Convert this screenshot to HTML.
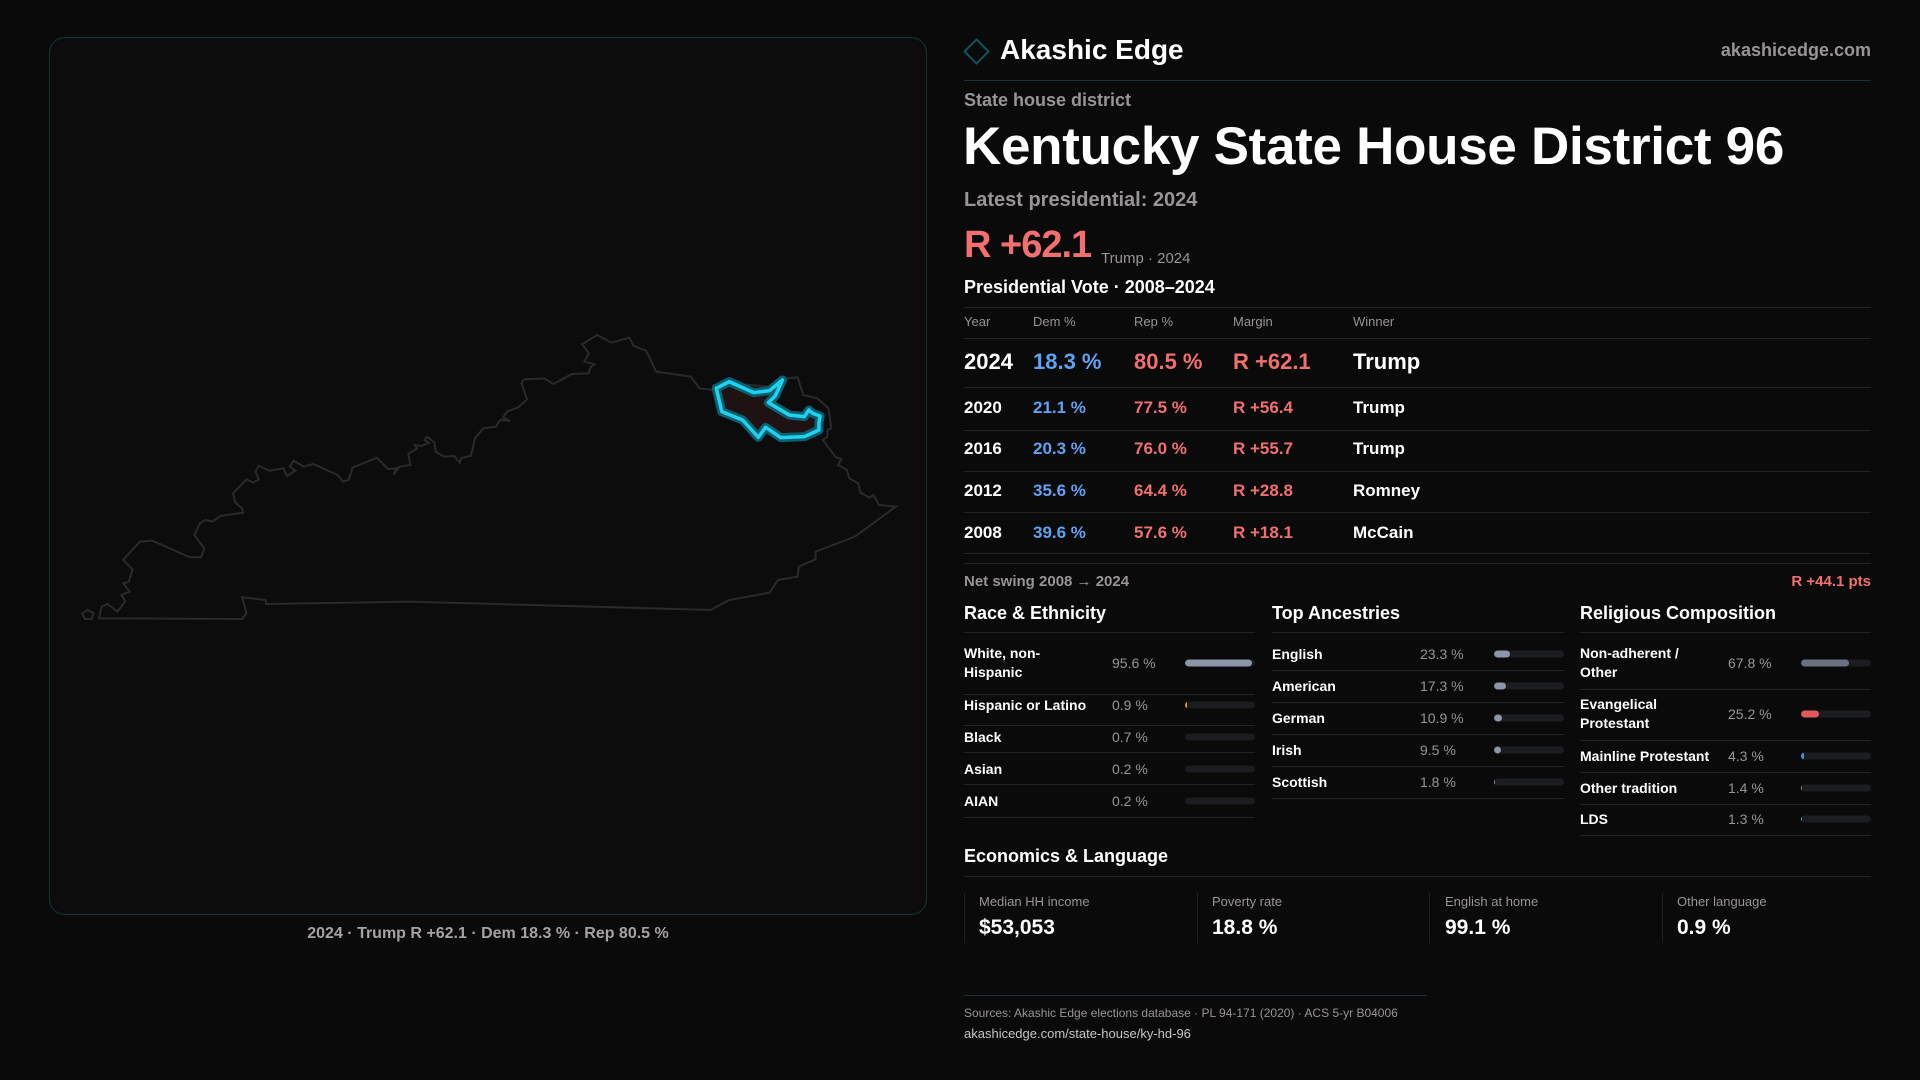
<!DOCTYPE html>
<html><head><meta charset="utf-8"><style>
*{margin:0;padding:0;box-sizing:border-box}
body{width:1920px;height:1080px;background:#0a0a0b;font-family:"Liberation Sans",sans-serif;color:#fff;position:relative;overflow:hidden}
.a{position:absolute;white-space:nowrap}
.g{color:#9a9494}
.b{color:#5ea2f2}.r{color:#f26f6f}
.hl{position:absolute;height:1px;background:#222326}
.row{font-size:15px;font-weight:bold;transform:translateY(-50%)}
.v{font-size:14px;color:#9a9494;transform:translateY(-50%)}
.tr{position:absolute;height:7px;border-radius:4px;background:#1c1d21;transform:translateY(-50%);overflow:hidden}
.tr i{display:block;height:100%;border-radius:4px}
</style></head><body>
<div style="position:absolute;left:49px;top:37px;width:878px;height:878px;border:1px solid #143338;border-radius:16px;background:#0c0c0d"></div>
<svg width="1920" height="1080" style="position:absolute;left:0;top:0">
<g transform="translate(40,320) scale(0.5612,0.3333)">
<path vector-effect="non-scaling-stroke" fill="none" stroke="#2a2a2c" stroke-width="2" d="M105,895 L360,897 368,880 360,832 402,840 403,852 660,845 1195,870 1228,840 1300,818 1315,780 1350,770 1352,740 1382,718 1382,695 1452,650 1525,560 1495,555 1485,525 1478,533 1462,518 1458,490 1442,475 1438,450 1422,435 1428,417 1418,412 1395,360 1403,350 1403,330 1410,325 1405,265 1385,235 1360,225 1350,172 1330,175 1300,200 1230,190 1200,210 1175,205 1160,170 1098,155 1080,92 1058,78 1050,53 1018,68 993,45 966,73 978,100 970,125 988,133 980,143 978,160 948,162 915,192 898,175 862,178 858,190 868,238 852,262 832,275 825,293 838,303 820,300 812,320 790,325 775,355 768,407 750,415 748,428 738,408 720,410 705,395 703,368 690,350 685,360 693,368 680,378 668,375 672,385 656,402 660,435 640,440 630,465 635,445 620,447 600,413 557,443 550,480 540,485 530,465 487,432 470,440 452,422 445,440 455,452 440,468 434,445 408,452 390,437 384,455 390,478 380,488 368,478 344,520 348,548 360,565 362,578 322,588 307,605 295,600 285,610 275,645 293,686 287,712 267,712 200,662 178,665 148,720 165,748 158,786 148,790 160,815 145,825 152,843 138,875 120,852 110,860 Z M75,880 L85,870 95,880 92,897 80,897 Z"/>
<path vector-effect="non-scaling-stroke" fill="#1e1212" stroke="#0d5f70" stroke-width="9" stroke-linejoin="round" d="M1205,205 L1228,185 1272,218 1300,212 1323,180 1310,228 1298,248 1335,285 1362,290 1370,270 1377,280 1390,288 1388,308 1388,330 1362,350 1320,353 1293,322 1280,352 1252,300 1215,275 Z"/>
<path vector-effect="non-scaling-stroke" fill="none" stroke="#1fd3f0" stroke-width="3.5" stroke-linejoin="round" d="M1205,205 L1228,185 1272,218 1300,212 1323,180 1310,228 1298,248 1335,285 1362,290 1370,270 1377,280 1390,288 1388,308 1388,330 1362,350 1320,353 1293,322 1280,352 1252,300 1215,275 Z"/>
</g>
<rect x="968" y="43" width="17" height="17" transform="rotate(45 976.5 51.5)" fill="none" stroke="#0f5561" stroke-width="2"/>
</svg>
<div class="a g" style="left:0;width:976px;text-align:center;top:925px;font-size:16px;font-weight:bold;color:#a8a2a2">2024 · Trump R +62.1 · Dem 18.3 % · Rep 80.5 %</div>

<div class="a" style="left:1000px;top:34px;font-size:28px;font-weight:bold">Akashic Edge</div>
<div class="a g" style="right:49px;top:40px;font-size:18px;font-weight:bold">akashicedge.com</div>
<div class="hl" style="left:964px;width:907px;top:80px;background:#153539"></div>
<div class="a g" style="left:964px;top:90px;font-size:18px;font-weight:bold">State house district</div>
<div class="a" style="left:963px;top:116px;font-size:53px;font-weight:bold;letter-spacing:-0.3px">Kentucky State House District 96</div>
<div class="a g" style="left:964px;top:189px;font-size:20px;font-weight:bold">Latest presidential: 2024</div>
<div class="a r" style="left:964px;top:224px;font-size:38px;letter-spacing:-1px;font-weight:bold">R +62.1</div>
<div class="a g" style="left:1101px;top:250px;font-size:15px">Trump · 2024</div>
<div class="a" style="left:964px;top:277px;font-size:18px;font-weight:bold">Presidential Vote · 2008–2024</div>
<div class="hl" style="left:964px;width:907px;top:307px"></div>
<div class="a g" style="left:964px;top:314px;font-size:13px">Year</div>
<div class="a g" style="left:1033px;top:314px;font-size:13px">Dem %</div>
<div class="a g" style="left:1134px;top:314px;font-size:13px">Rep %</div>
<div class="a g" style="left:1233px;top:314px;font-size:13px">Margin</div>
<div class="a g" style="left:1353px;top:314px;font-size:13px">Winner</div>
<div class="hl" style="left:964px;width:907px;top:338px"></div>
<div class="a row" style="left:964px;top:362px;font-size:22px">2024</div>
<div class="a row b" style="left:1033px;top:362px;font-size:22px">18.3 %</div>
<div class="a row r" style="left:1134px;top:362px;font-size:22px">80.5 %</div>
<div class="a row r" style="left:1233px;top:362px;font-size:22px">R +62.1</div>
<div class="a row" style="left:1353px;top:362px;font-size:22px">Trump</div>
<div class="hl" style="left:964px;width:907px;top:387px"></div>
<div class="a row" style="left:964px;top:408px;font-size:17px">2020</div><div class="a row b" style="left:1033px;top:408px;font-size:17px">21.1 %</div><div class="a row r" style="left:1134px;top:408px;font-size:17px">77.5 %</div><div class="a row r" style="left:1233px;top:408px;font-size:17px">R +56.4</div><div class="a row" style="left:1353px;top:408px;font-size:17px">Trump</div>
<div class="hl" style="left:964px;width:907px;top:430px"></div>
<div class="a row" style="left:964px;top:449px;font-size:17px">2016</div><div class="a row b" style="left:1033px;top:449px;font-size:17px">20.3 %</div><div class="a row r" style="left:1134px;top:449px;font-size:17px">76.0 %</div><div class="a row r" style="left:1233px;top:449px;font-size:17px">R +55.7</div><div class="a row" style="left:1353px;top:449px;font-size:17px">Trump</div>
<div class="hl" style="left:964px;width:907px;top:471px"></div>
<div class="a row" style="left:964px;top:491px;font-size:17px">2012</div><div class="a row b" style="left:1033px;top:491px;font-size:17px">35.6 %</div><div class="a row r" style="left:1134px;top:491px;font-size:17px">64.4 %</div><div class="a row r" style="left:1233px;top:491px;font-size:17px">R +28.8</div><div class="a row" style="left:1353px;top:491px;font-size:17px">Romney</div>
<div class="hl" style="left:964px;width:907px;top:512px"></div>
<div class="a row" style="left:964px;top:533px;font-size:17px">2008</div><div class="a row b" style="left:1033px;top:533px;font-size:17px">39.6 %</div><div class="a row r" style="left:1134px;top:533px;font-size:17px">57.6 %</div><div class="a row r" style="left:1233px;top:533px;font-size:17px">R +18.1</div><div class="a row" style="left:1353px;top:533px;font-size:17px">McCain</div>
<div class="hl" style="left:964px;width:907px;top:553px"></div>
<div class="hl" style="left:964px;width:907px;top:563px"></div>
<div class="a g" style="left:964px;top:573px;font-size:15px;font-weight:bold">Net swing 2008 → 2024</div>
<div class="a r" style="right:49px;top:573px;font-size:15px;font-weight:bold">R +44.1 pts</div>

<div class="a" style="left:964px;top:603px;font-size:18px;font-weight:bold">Race &amp; Ethnicity</div>
<div class="a" style="left:1272px;top:603px;font-size:18px;font-weight:bold">Top Ancestries</div>
<div class="a" style="left:1580px;top:603px;font-size:18px;font-weight:bold">Religious Composition</div>
<div class="hl" style="left:964px;width:291px;top:632px"></div>
<div class="hl" style="left:1272px;width:292px;top:632px"></div>
<div class="hl" style="left:1580px;width:291px;top:632px"></div>

<div class="a row" style="left:964px;top:663px;font-size:14px;line-height:19px">White, non-<br>Hispanic</div><div class="a v" style="left:1112px;top:663px">95.6 %</div><div class="tr" style="left:1185px;width:70px;top:663px"><i style="width:96%;background:#8c96a8"></i></div>
<div class="hl" style="left:964px;width:291px;top:694px"></div>
<div class="a row" style="left:964px;top:705px;font-size:14px">Hispanic or Latino</div><div class="a v" style="left:1112px;top:705px">0.9 %</div><div class="tr" style="left:1185px;width:70px;top:705px"><i style="width:2px;background:#e0952a"></i></div>
<div class="hl" style="left:964px;width:291px;top:725px"></div>
<div class="a row" style="left:964px;top:737px;font-size:14px">Black</div><div class="a v" style="left:1112px;top:737px">0.7 %</div><div class="tr" style="left:1185px;width:70px;top:737px"></div>
<div class="hl" style="left:964px;width:291px;top:752px"></div>
<div class="a row" style="left:964px;top:769px;font-size:14px">Asian</div><div class="a v" style="left:1112px;top:769px">0.2 %</div><div class="tr" style="left:1185px;width:70px;top:769px"></div>
<div class="hl" style="left:964px;width:291px;top:784px"></div>
<div class="a row" style="left:964px;top:801px;font-size:14px">AIAN</div><div class="a v" style="left:1112px;top:801px">0.2 %</div><div class="tr" style="left:1185px;width:70px;top:801px"></div>
<div class="hl" style="left:964px;width:291px;top:817px"></div>

<div class="a row" style="left:1272px;top:654px;font-size:14px">English</div><div class="a v" style="left:1420px;top:654px">23.3 %</div><div class="tr" style="left:1494px;width:70px;top:654px"><i style="width:23%;background:#8c96a8"></i></div>
<div class="hl" style="left:1272px;width:292px;top:670px"></div>
<div class="a row" style="left:1272px;top:686px;font-size:14px">American</div><div class="a v" style="left:1420px;top:686px">17.3 %</div><div class="tr" style="left:1494px;width:70px;top:686px"><i style="width:17%;background:#8c96a8"></i></div>
<div class="hl" style="left:1272px;width:292px;top:702px"></div>
<div class="a row" style="left:1272px;top:718px;font-size:14px">German</div><div class="a v" style="left:1420px;top:718px">10.9 %</div><div class="tr" style="left:1494px;width:70px;top:718px"><i style="width:11%;background:#8c96a8"></i></div>
<div class="hl" style="left:1272px;width:292px;top:734px"></div>
<div class="a row" style="left:1272px;top:750px;font-size:14px">Irish</div><div class="a v" style="left:1420px;top:750px">9.5 %</div><div class="tr" style="left:1494px;width:70px;top:750px"><i style="width:10%;background:#8c96a8"></i></div>
<div class="hl" style="left:1272px;width:292px;top:766px"></div>
<div class="a row" style="left:1272px;top:782px;font-size:14px">Scottish</div><div class="a v" style="left:1420px;top:782px">1.8 %</div><div class="tr" style="left:1494px;width:70px;top:782px"><i style="width:1px;background:#8c96a8"></i></div>
<div class="hl" style="left:1272px;width:292px;top:798px"></div>

<div class="a row" style="left:1580px;top:663px;font-size:14px;line-height:19px">Non-adherent /<br>Other</div><div class="a v" style="left:1728px;top:663px">67.8 %</div><div class="tr" style="left:1801px;width:70px;top:663px"><i style="width:68%;background:#6b7182"></i></div>
<div class="hl" style="left:1580px;width:291px;top:689px"></div>
<div class="a row" style="left:1580px;top:714px;font-size:14px;line-height:19px">Evangelical<br>Protestant</div><div class="a v" style="left:1728px;top:714px">25.2 %</div><div class="tr" style="left:1801px;width:70px;top:714px"><i style="width:25%;background:#e05a5a"></i></div>
<div class="hl" style="left:1580px;width:291px;top:740px"></div>
<div class="a row" style="left:1580px;top:756px;font-size:14px">Mainline Protestant</div><div class="a v" style="left:1728px;top:756px">4.3 %</div><div class="tr" style="left:1801px;width:70px;top:756px"><i style="width:3px;background:#4a8ee0"></i></div>
<div class="hl" style="left:1580px;width:291px;top:772px"></div>
<div class="a row" style="left:1580px;top:788px;font-size:14px">Other tradition</div><div class="a v" style="left:1728px;top:788px">1.4 %</div><div class="tr" style="left:1801px;width:70px;top:788px"><i style="width:1px;background:#999"></i></div>
<div class="hl" style="left:1580px;width:291px;top:804px"></div>
<div class="a row" style="left:1580px;top:819px;font-size:14px">LDS</div><div class="a v" style="left:1728px;top:819px">1.3 %</div><div class="tr" style="left:1801px;width:70px;top:819px"><i style="width:1px;background:#2ab0c0"></i></div>
<div class="hl" style="left:1580px;width:291px;top:835px"></div>

<div class="a" style="left:964px;top:846px;font-size:18px;font-weight:bold">Economics &amp; Language</div>
<div class="hl" style="left:964px;width:907px;top:876px"></div>
<div style="position:absolute;left:964px;top:893px;width:1px;height:50px;background:#1e1f22"></div>
<div style="position:absolute;left:1197px;top:893px;width:1px;height:50px;background:#1e1f22"></div>
<div style="position:absolute;left:1429px;top:893px;width:1px;height:50px;background:#1e1f22"></div>
<div style="position:absolute;left:1662px;top:893px;width:1px;height:50px;background:#1e1f22"></div>
<div class="a g" style="left:979px;top:894px;font-size:13px">Median HH income</div>
<div class="a g" style="left:1212px;top:894px;font-size:13px">Poverty rate</div>
<div class="a g" style="left:1445px;top:894px;font-size:13px">English at home</div>
<div class="a g" style="left:1677px;top:894px;font-size:13px">Other language</div>
<div class="a" style="left:979px;top:916px;font-size:21px;font-weight:bold">$53,053</div>
<div class="a" style="left:1212px;top:916px;font-size:21px;font-weight:bold">18.8 %</div>
<div class="a" style="left:1445px;top:916px;font-size:21px;font-weight:bold">99.1 %</div>
<div class="a" style="left:1677px;top:916px;font-size:21px;font-weight:bold">0.9 %</div>

<div class="hl" style="left:964px;width:463px;top:995px;background:#153539"></div>
<div class="a g" style="left:964px;top:1006px;font-size:12px">Sources: Akashic Edge elections database · PL 94-171 (2020) · ACS 5-yr B04006</div>
<div class="a" style="left:964px;top:1026px;font-size:13px;color:#c8c4c4">akashicedge.com/state-house/ky-hd-96</div>
</body></html>
